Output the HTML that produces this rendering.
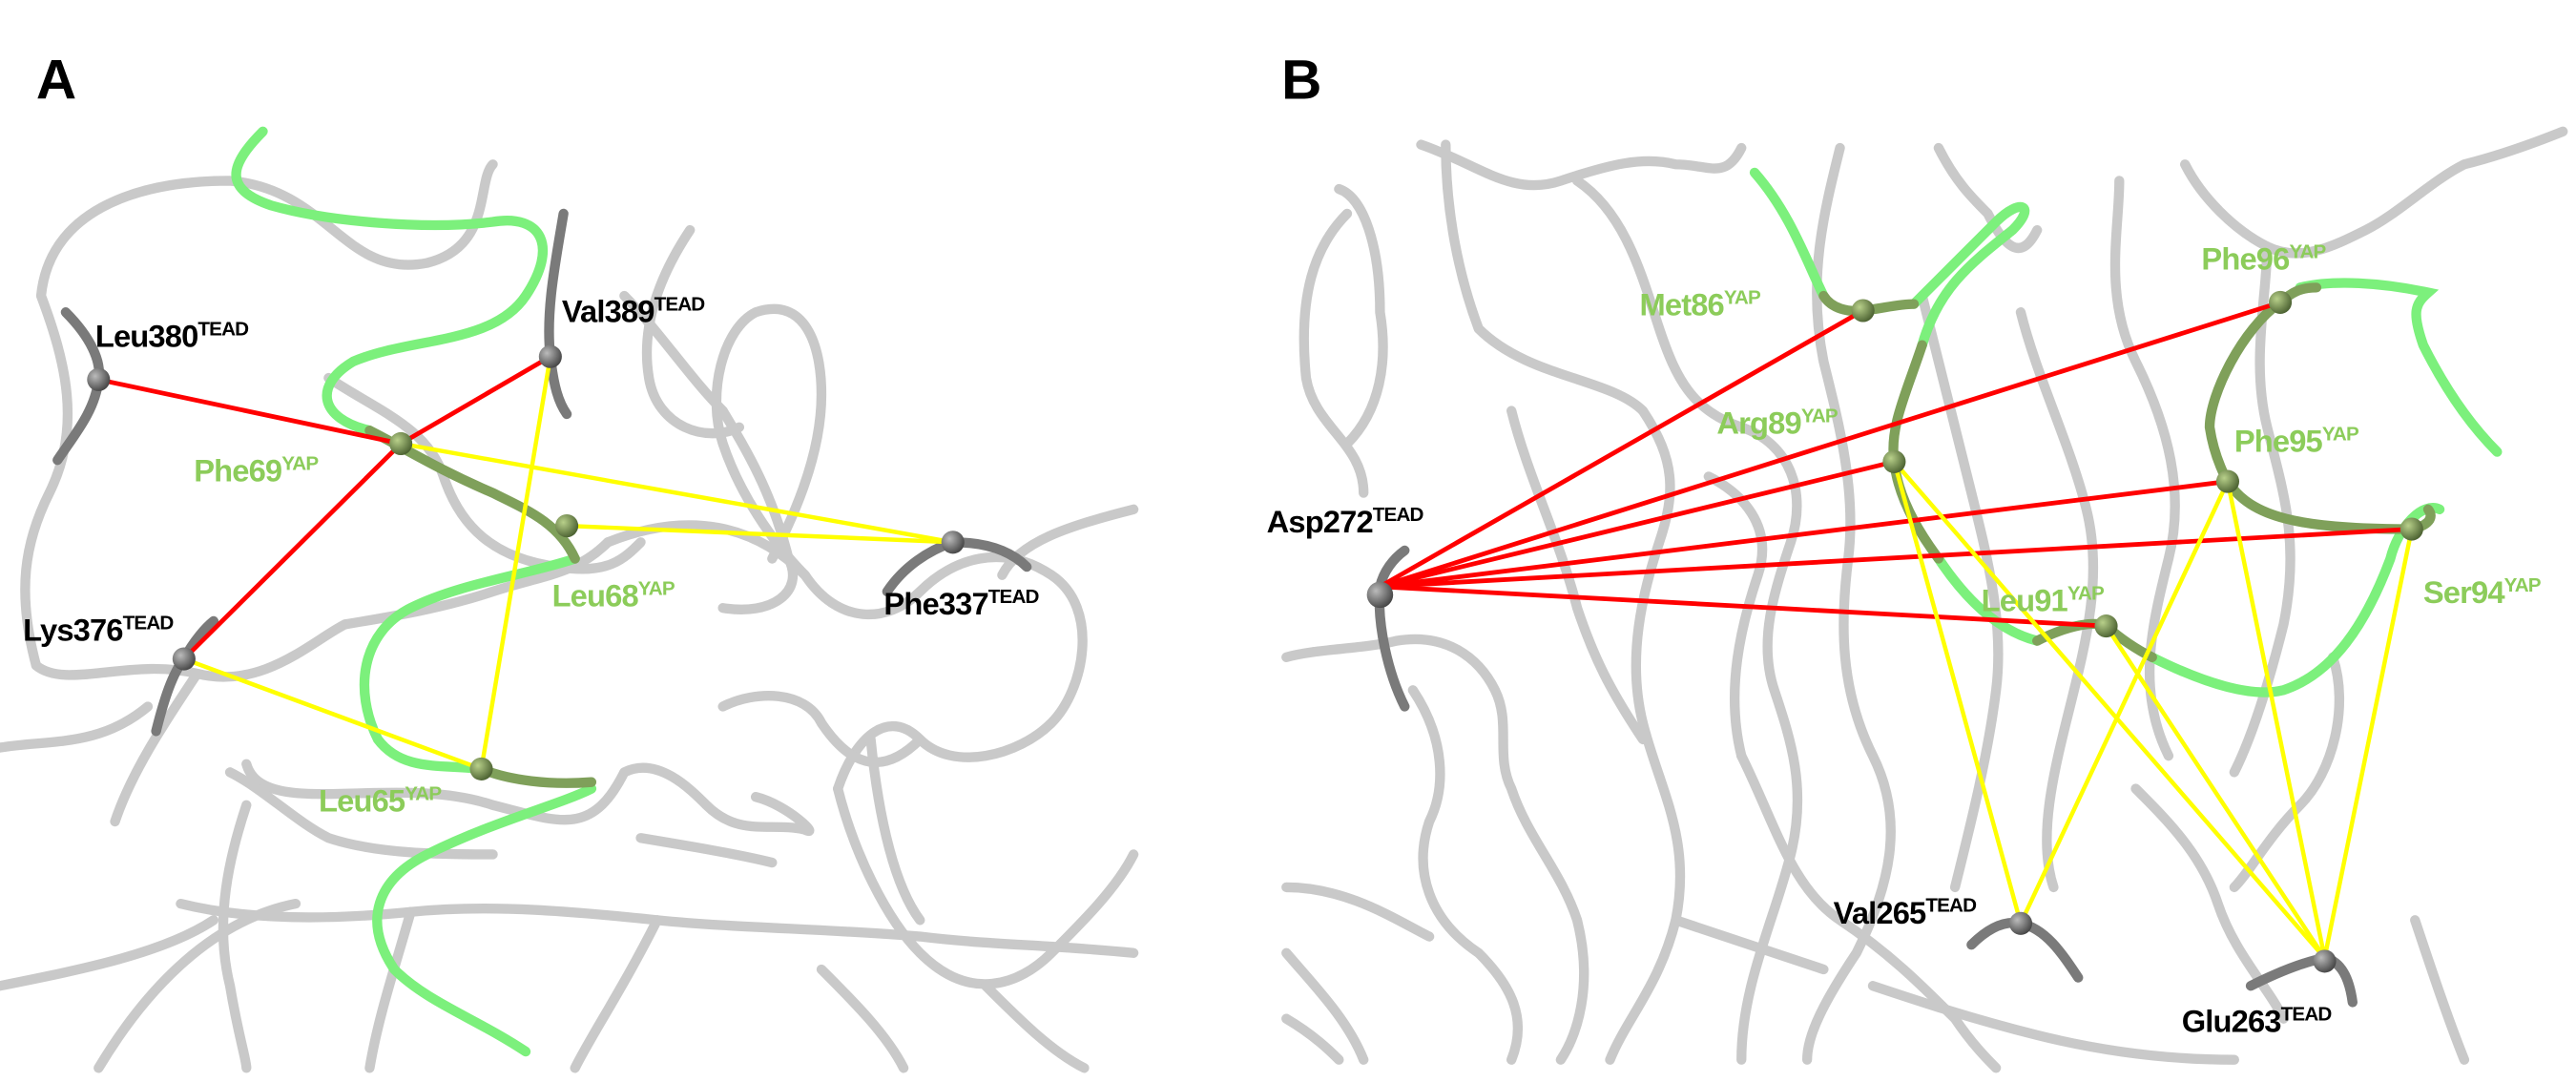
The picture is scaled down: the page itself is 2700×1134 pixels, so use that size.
<!DOCTYPE html>
<html><head><meta charset="utf-8"><style>
html,body{margin:0;padding:0;background:#fff;}
svg{display:block;}
text{font-family:"Liberation Sans",sans-serif;font-weight:bold;}
.g{fill:none;stroke:#c9c9c9;stroke-width:6;stroke-linecap:round;stroke-linejoin:round;}
.dg{fill:none;stroke:#7a7a7a;stroke-width:6;stroke-linecap:round;}
.gr{fill:none;stroke:#7cf07c;stroke-width:6;stroke-linecap:round;}
.ol{fill:none;stroke:#7fa05a;stroke-width:6;stroke-linecap:round;}
.r{stroke:#ff0000;stroke-width:2.8;}
.y{stroke:#ffff00;stroke-width:2.6;}
.k{font-size:19px;fill:#000;letter-spacing:-0.5px;}
.v{font-size:19px;fill:#8ccc5a;letter-spacing:-0.5px;}
</style></head><body>
<svg width="2700" height="1134" viewBox="0 0 1568 658.5" xmlns="http://www.w3.org/2000/svg">
<defs>
<radialGradient id="bk" cx="0.35" cy="0.35" r="0.7"><stop offset="0" stop-color="#bbb"/><stop offset="1" stop-color="#444"/></radialGradient>
<radialGradient id="gn" cx="0.35" cy="0.35" r="0.7"><stop offset="0" stop-color="#b8d08a"/><stop offset="1" stop-color="#4a6030"/></radialGradient>
</defs>
<!-- Panel A gray strands -->
<g class="g">
<path d="M22 405 C10 360 15 330 30 300 C50 260 40 220 25 180 C30 130 80 110 140 110 C200 115 210 170 260 160 C300 150 290 110 300 100"/>
<path d="M22 405 C40 420 80 400 120 410 C160 420 190 390 210 380"/>
<path d="M0 455 C30 450 60 455 90 430"/>
<path d="M150 465 C160 500 240 470 300 490 C340 500 360 510 380 470 C400 460 420 480 430 490 C450 510 470 500 490 505 C500 510 480 490 460 485"/>
<path d="M390 510 C420 515 450 520 470 525"/>
<path d="M420 140 C400 170 390 200 395 230 C400 260 430 270 450 260"/>
<path d="M380 180 C400 200 420 230 440 250 C455 275 470 300 480 340 C490 360 470 375 440 370"/>
<path d="M370 330 C420 310 460 320 490 350 C510 380 540 380 560 360 C580 340 610 330 640 350 C670 370 660 420 640 440 C620 460 580 470 560 450 C540 430 520 450 510 480"/>
<path d="M510 480 C520 520 540 560 560 580 C590 610 620 600 640 580 C660 560 680 540 690 520"/>
<path d="M610 350 C620 330 650 320 690 310"/>
<path d="M490 350 C470 330 450 300 440 270 C430 240 440 200 460 190 C490 180 500 210 500 240 C500 280 480 320 470 340"/>
<path d="M560 450 C540 470 520 470 500 440 C490 420 460 420 440 430"/>
<path d="M530 450 C535 500 545 540 560 560"/>
<path d="M200 230 C230 250 260 260 270 290 C280 320 300 340 340 345 C370 350 380 340 390 330"/>
<path d="M210 380 C240 375 270 370 300 360 C330 350 350 350 370 330"/>
<path d="M110 550 C150 560 200 560 250 555 C300 550 350 555 400 560 C450 565 500 565 560 570 C600 575 640 575 690 580"/>
<path d="M60 650 C90 600 130 560 180 550"/>
<path d="M250 555 C240 590 230 620 225 650"/>
<path d="M400 560 C380 600 360 630 350 650"/>
<path d="M120 410 C100 440 80 470 70 500"/>
<path d="M140 470 C160 480 180 500 200 510 C230 520 270 520 300 520"/>
<path d="M0 600 C50 590 100 580 130 560"/>
<path d="M500 590 C520 610 540 630 550 650"/>
<path d="M600 600 C620 620 640 640 660 650"/>
<path d="M150 490 C140 520 130 560 140 600 C145 630 150 645 150 650"/>
</g>
<!-- Panel A dark segments -->
<g class="dg">
<path d="M40 190 C55 205 62 220 60 231 C58 250 45 265 35 280"/>
<path d="M343 130 C338 160 332 190 335 217 C337 235 340 245 345 252"/>
<path d="M540 360 C550 345 565 335 580 330 C600 330 615 335 625 345"/>
<path d="M95 445 C100 425 105 410 112 401 C118 390 125 382 130 378"/>
</g>
<!-- Panel A green -->
<g class="gr">
<path d="M160 80 C140 100 135 115 165 125 C200 135 260 140 300 135 C330 130 340 150 320 180 C300 210 250 205 215 220 C190 235 195 255 225 262"/>
<path d="M350 340 C320 350 280 355 250 370 C220 385 215 420 230 450 C245 470 270 465 293 468"/>
<path d="M360 480 C340 490 300 500 260 520 C230 535 220 560 240 590 C260 610 290 620 320 640"/>
</g>
<g class="ol">
<path d="M225 262 C245 272 265 285 300 300 C320 310 340 318 350 340"/>
<path d="M293 468 C310 475 335 478 360 476"/>
</g>
<!-- Panel A lines -->
<line class="r" x1="60" y1="231" x2="244" y2="270"/>
<line class="r" x1="244" y1="270" x2="335" y2="217"/>
<line class="r" x1="244" y1="270" x2="112" y2="401"/>
<line class="y" x1="244" y1="270" x2="580" y2="330"/>
<line class="y" x1="345" y1="320" x2="580" y2="330"/>
<line class="y" x1="335" y1="217" x2="293" y2="468"/>
<line class="y" x1="112" y1="401" x2="293" y2="468"/>
<g>
<circle cx="60" cy="231" r="7" fill="url(#bk)"/>
<circle cx="335" cy="217" r="7" fill="url(#bk)"/>
<circle cx="580" cy="330" r="7" fill="url(#bk)"/>
<circle cx="112" cy="401" r="7" fill="url(#bk)"/>
<circle cx="244" cy="270" r="7" fill="url(#gn)"/>
<circle cx="345" cy="320" r="7" fill="url(#gn)"/>
<circle cx="293" cy="468" r="7" fill="url(#gn)"/>
</g>
<text x="22" y="60" style="font-size:34px">A</text>
<text class="k" x="58" y="211">Leu380<tspan font-size="12" dy="-7">TEAD</tspan></text>
<text class="k" x="342" y="196">Val389<tspan font-size="12" dy="-7">TEAD</tspan></text>
<text class="v" x="118" y="293">Phe69<tspan font-size="12" dy="-7">YAP</tspan></text>
<text class="v" x="336" y="369">Leu68<tspan font-size="12" dy="-7">YAP</tspan></text>
<text class="k" x="538" y="374">Phe337<tspan font-size="12" dy="-7">TEAD</tspan></text>
<text class="k" x="14" y="390">Lys376<tspan font-size="12" dy="-7">TEAD</tspan></text>
<text class="v" x="194" y="494">Leu65<tspan font-size="12" dy="-7">YAP</tspan></text>

<!-- Panel B gray strands -->
<g class="g">
<path d="M865 88 C900 100 920 120 950 110 C980 100 1000 95 1020 100 C1040 100 1050 110 1060 90"/>
<path d="M880 88 C880 120 885 160 900 200 C930 230 980 230 1000 250 C1020 280 1020 300 1010 330 C1000 360 990 400 1000 440 C1010 480 1030 510 1020 560 C1010 600 990 620 980 645"/>
<path d="M820 130 C800 150 790 180 795 230 C800 260 830 270 830 300"/>
<path d="M815 115 C830 120 840 150 840 190 C845 220 840 250 820 270"/>
<path d="M783 400 C800 395 830 395 850 390 C880 385 900 400 910 420 C920 440 910 460 920 480 C930 510 950 530 960 560 C970 600 960 630 950 645"/>
<path d="M860 420 C880 450 880 480 870 500 C860 530 870 560 900 580 C920 600 930 620 920 645"/>
<path d="M783 540 C820 540 850 560 870 570"/>
<path d="M783 580 C800 600 820 620 830 645"/>
<path d="M920 250 C930 290 950 330 960 370 C970 400 980 420 1000 450"/>
<path d="M960 110 C990 130 1000 170 1010 200 C1020 230 1030 250 1060 260 C1090 270 1100 300 1090 330 C1080 360 1070 390 1080 420 C1090 450 1100 480 1090 520 C1080 560 1060 600 1060 645"/>
<path d="M1040 290 C1060 300 1080 320 1070 350 C1060 380 1050 420 1060 460"/>
<path d="M1060 460 C1080 500 1090 540 1120 560 C1150 580 1170 600 1190 620 C1200 635 1210 645 1215 650"/>
<path d="M1120 90 C1110 130 1100 170 1110 220 C1120 260 1130 300 1125 340 C1120 380 1120 420 1140 460 C1160 500 1150 540 1130 580 C1110 610 1100 630 1100 645"/>
<path d="M1170 180 C1180 220 1190 260 1200 300 C1210 340 1220 380 1215 420 C1210 460 1200 500 1190 540"/>
<path d="M1180 90 C1190 110 1200 120 1210 130 C1220 150 1230 160 1240 140"/>
<path d="M1230 190 C1240 230 1260 270 1270 310 C1280 350 1270 390 1260 430 C1250 470 1240 510 1250 540"/>
<path d="M1290 110 C1290 140 1280 180 1300 220 C1320 260 1330 300 1320 340 C1310 380 1300 420 1320 460"/>
<path d="M1330 100 C1340 120 1360 140 1380 150 C1400 160 1420 150 1440 140 C1460 130 1480 110 1500 100 C1520 95 1540 88 1560 80"/>
<path d="M1380 150 C1380 180 1370 220 1380 260 C1390 300 1400 330 1390 380 C1380 420 1370 450 1360 470"/>
<path d="M1420 400 C1430 430 1420 470 1400 490 C1380 510 1370 530 1360 540"/>
<path d="M1300 480 C1320 500 1340 520 1350 550 C1360 580 1380 600 1390 620"/>
<path d="M1140 600 C1170 610 1200 620 1240 630 C1280 640 1320 645 1360 645"/>
<path d="M1020 560 C1050 570 1080 580 1110 590"/>
<path d="M1470 560 C1480 590 1490 620 1500 645"/>
<path d="M783 620 C800 630 810 640 815 645"/>
</g>
<!-- Panel B dark segments -->
<g class="dg">
<path d="M855 335 C848 340 842 348 840 357 C838 380 845 410 855 430"/>
<path d="M1200 575 C1210 565 1220 560 1230 562 C1245 565 1255 580 1265 595"/>
<path d="M1370 600 C1390 590 1405 585 1415 583 C1425 585 1430 595 1432 610"/>
</g>
<!-- Panel B green -->
<g class="gr">
<path d="M1068 105 C1090 130 1100 160 1110 180"/>
<path d="M1165 185 C1180 170 1200 150 1215 135 C1230 120 1240 125 1225 140 C1200 160 1180 175 1170 210"/>
<path d="M1400 175 C1420 170 1450 172 1478 178 C1470 185 1468 190 1475 210 C1490 240 1505 260 1520 275"/>
<path d="M1180 340 C1200 370 1220 385 1240 390"/>
<path d="M1310 400 C1340 415 1370 425 1390 420 C1420 410 1440 380 1455 340 C1460 320 1475 305 1485 310"/>
</g>
<g class="ol">
<path d="M1110 180 C1115 188 1125 190 1134 189 C1145 188 1155 185 1165 185"/>
<path d="M1170 210 C1160 240 1150 260 1153 281 C1155 300 1165 320 1180 340"/>
<path d="M1388 184 C1365 200 1345 240 1345 260 C1348 280 1356 293 1356 293 C1370 315 1400 322 1468 322 C1478 320 1482 315 1478 310"/>
<path d="M1240 390 C1260 380 1275 378 1282 381 C1290 388 1300 395 1310 400"/>
<path d="M1388 184 C1395 178 1400 175 1410 175"/>
</g>
<!-- Panel B lines -->
<g class="r">
<line x1="840" y1="357" x2="1134" y2="189"/>
<line x1="840" y1="357" x2="1388" y2="184"/>
<line x1="840" y1="357" x2="1153" y2="281"/>
<line x1="840" y1="357" x2="1356" y2="293"/>
<line x1="840" y1="357" x2="1468" y2="322"/>
<line x1="840" y1="357" x2="1282" y2="381"/>
</g>
<g class="y">
<line x1="1153" y1="281" x2="1230" y2="562"/>
<line x1="1153" y1="281" x2="1415" y2="583"/>
<line x1="1356" y1="293" x2="1230" y2="562"/>
<line x1="1356" y1="293" x2="1415" y2="583"/>
<line x1="1282" y1="381" x2="1415" y2="583"/>
<line x1="1468" y1="322" x2="1415" y2="583"/>
</g>
<g>
<circle cx="840" cy="362" r="8" fill="url(#bk)"/>
<circle cx="1230" cy="562" r="7" fill="url(#bk)"/>
<circle cx="1415" cy="585" r="7" fill="url(#bk)"/>
<circle cx="1134" cy="189" r="7" fill="url(#gn)"/>
<circle cx="1388" cy="184" r="7" fill="url(#gn)"/>
<circle cx="1153" cy="281" r="7" fill="url(#gn)"/>
<circle cx="1356" cy="293" r="7" fill="url(#gn)"/>
<circle cx="1468" cy="322" r="7" fill="url(#gn)"/>
<circle cx="1282" cy="381" r="7" fill="url(#gn)"/>
</g>
<text x="780" y="60" style="font-size:34px">B</text>
<text class="k" x="771" y="324">Asp272<tspan font-size="12" dy="-7">TEAD</tspan></text>
<text class="v" x="998" y="192">Met86<tspan font-size="12" dy="-7">YAP</tspan></text>
<text class="v" x="1340" y="164">Phe96<tspan font-size="12" dy="-7">YAP</tspan></text>
<text class="v" x="1045" y="264">Arg89<tspan font-size="12" dy="-7">YAP</tspan></text>
<text class="v" x="1360" y="275">Phe95<tspan font-size="12" dy="-7">YAP</tspan></text>
<text class="v" x="1475" y="367">Ser94<tspan font-size="12" dy="-7">YAP</tspan></text>
<text class="v" x="1206" y="372">Leu91<tspan font-size="12" dy="-7">YAP</tspan></text>
<text class="k" x="1116" y="562">Val265<tspan font-size="12" dy="-7">TEAD</tspan></text>
<text class="k" x="1328" y="628">Glu263<tspan font-size="12" dy="-7">TEAD</tspan></text>
</svg>
</body></html>
